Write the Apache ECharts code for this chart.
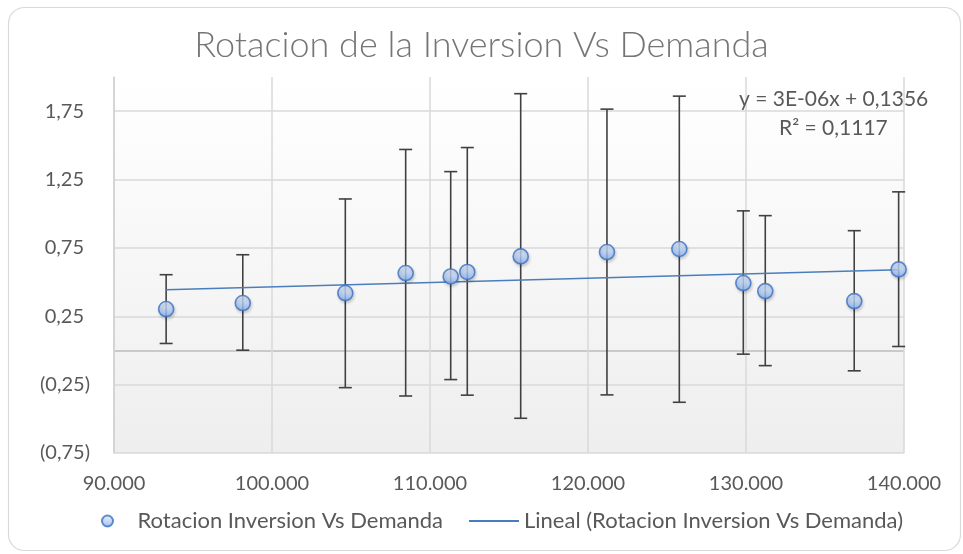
<!DOCTYPE html>
<html><head><meta charset="utf-8">
<script src="https://cdn.jsdelivr.net/npm/echarts@6/dist/echarts.min.js"></script>
<style>html,body{margin:0;padding:0;background:#fff}#c{width:963px;height:554px}</style>
</head><body><div id="c"></div>
<script>
// ---- data ----
const demanda  = [93300, 98150, 104640, 108460, 111310, 112360, 115740, 121200, 125780, 129830, 131220, 136850, 139660];
const rotacion = [0.303, 0.347, 0.420, 0.566, 0.541, 0.574, 0.688, 0.720, 0.742, 0.493, 0.434, 0.361, 0.593];
const errLow   = [0.051, 0.002, -0.272, -0.333, -0.213, -0.327, -0.496, -0.325, -0.379, -0.027, -0.111, -0.149, 0.029];
const errHigh  = [0.554, 0.700, 1.108, 1.470, 1.308, 1.484, 1.878, 1.765, 1.860, 1.021, 0.986, 0.876, 1.160];
const trendX   = [93300, 139660];
const trendY   = [0.444, 0.590];
const yTickValues = [-0.75, -0.25, 0.25, 0.75, 1.25, 1.75];
const yTickLabels = ['(0,75)', '(0,25)', '0,25', '0,75', '1,25', '1,75'];
const xTickValues = [90000, 100000, 110000, 120000, 130000, 140000];
const xTickLabels = ['90.000', '100.000', '110.000', '120.000', '130.000', '140.000'];
const titleText = 'Rotacion de la Inversion Vs Demanda';
const seriesName = 'Rotacion Inversion Vs Demanda';
const trendName = 'Lineal (Rotacion Inversion Vs Demanda)';
const eqText = 'y = 3E-06x + 0,1356';
const r2Text = 'R² = 0,1117';

const FONT = 'Lato';
const chart = echarts.init(document.getElementById('c'), null, {renderer: 'canvas'});

const points = demanda.map((x, i) => [x, rotacion[i]]);
const bars = demanda.map((x, i) => [x, errLow[i], errHigh[i]]);
const trend = trendX.map((x, i) => [x, trendY[i]]);

// split line colours cycle per 0.25 tick starting at -0.75
const gl = '#d9d9d9', none = 'rgba(0,0,0,0)', zero = '#bdbdbd';
const splitColors = [gl, none, gl, zero, gl, none, gl, none, gl, none, gl, none];

const markerFill = {type: 'linear', x: 0, y: 0, x2: 0, y2: 1,
  colorStops: [{offset: 0, color: '#e4eefd'}, {offset: 0.5, color: '#b9d2f7'}, {offset: 1, color: '#82acef'}]};

chart.setOption({
  backgroundColor: '#ffffff',
  animation: false,
  title: {
    text: titleText, left: 'center', top: 22,
    textStyle: {fontFamily: FONT, fontWeight: 300, fontSize: 36, color: '#757575'}
  },
  grid: {
    left: 114, right: 59, top: 77, bottom: 101, show: true, borderWidth: 0,
    backgroundColor: {type: 'linear', x: 0, y: 0, x2: 0, y2: 1,
      colorStops: [{offset: 0, color: '#ffffff'}, {offset: 1, color: '#eeeeee'}]}
  },
  legend: [{
    data: [{name: seriesName, icon: 'circle'}], left: 96, top: 505, itemWidth: 50, itemHeight: 11,
    textStyle: {fontFamily: FONT, fontSize: 22, color: '#595959'}
  }, {
    data: [{name: trendName, icon: 'rect'}], left: 464, top: 505, itemWidth: 50, itemHeight: 2,
    textStyle: {fontFamily: FONT, fontSize: 22, color: '#595959'}
  }],
  xAxis: {
    type: 'value', min: 90000, max: 140000, interval: 10000,
    axisLine: {show: false, onZero: false},
    axisTick: {show: false},
    splitLine: {show: true, lineStyle: {color: gl, width: 1.5}},
    axisLabel: {
      fontFamily: FONT, fontSize: 20, color: '#595959', margin: 21,
      formatter: v => { const i = xTickValues.indexOf(v); return i >= 0 ? xTickLabels[i] : ''; }
    }
  },
  yAxis: {
    type: 'value', min: -0.75, max: 2.0, interval: 0.25,
    axisLine: {show: true, lineStyle: {color: '#d0d0d0', width: 1.5}},
    axisTick: {show: false},
    splitLine: {show: true, lineStyle: {color: splitColors, width: 1.5}},
    axisLabel: {
      fontFamily: FONT, fontSize: 20, color: '#595959', margin: 24,
      formatter: v => {
        const i = yTickValues.findIndex(t => Math.abs(t - v) < 1e-6);
        if (i < 0) return '';
        return yTickValues[i] < 0 ? yTickLabels[i] : '{p|' + yTickLabels[i] + '}';
      },
      rich: {p: {fontFamily: FONT, fontSize: 20, color: '#595959', padding: [0, 6, 0, 0]}}
    }
  },
  series: [{
    type: 'custom', name: 'err', z: 2, silent: true,
    data: bars, encode: {x: 0, y: [1, 2]},
    renderItem: (params, api) => {
      const x = api.value(0);
      const pl = api.coord([x, api.value(1)]);
      const ph = api.coord([x, api.value(2)]);
      const w = 6.5, st = {stroke: '#404040', lineWidth: 1.6};
      return {type: 'group', children: [
        {type: 'line', shape: {x1: pl[0], y1: pl[1], x2: ph[0], y2: ph[1]}, style: st},
        {type: 'line', shape: {x1: ph[0] - w, y1: ph[1], x2: ph[0] + w, y2: ph[1]}, style: st},
        {type: 'line', shape: {x1: pl[0] - w, y1: pl[1], x2: pl[0] + w, y2: pl[1]}, style: st}
      ]};
    }
  }, {
    type: 'line', name: trendName, z: 3, data: trend, symbol: 'none',
    lineStyle: {color: '#4a7ebb', width: 1.6}, itemStyle: {color: '#4a7ebb'}
  }, {
    type: 'scatter', name: seriesName, z: 4, data: points, symbolSize: 15,
    itemStyle: {
      color: markerFill,
      borderColor: '#3a6fc6', borderWidth: 1.6,
      shadowBlur: 3, shadowColor: 'rgba(0,0,0,0.2)', shadowOffsetX: 1, shadowOffsetY: 2
    }
  }],
  graphic: [{
    type: 'rect', silent: true, z: -10,
    shape: {x: 8.5, y: 7.5, width: 952, height: 543, r: 16},
    style: {fill: 'none', stroke: '#d9d9d9', lineWidth: 1.2}
  }, {
    type: 'text', z: 10, left: 739, top: 89,
    style: {text: eqText, fontFamily: FONT, fontSize: 21, fill: '#595959'}
  }, {
    type: 'text', z: 10, left: 779, top: 118,
    style: {text: r2Text, fontFamily: FONT, fontSize: 21, fill: '#595959'}
  }]
});
</script>
</body></html>
